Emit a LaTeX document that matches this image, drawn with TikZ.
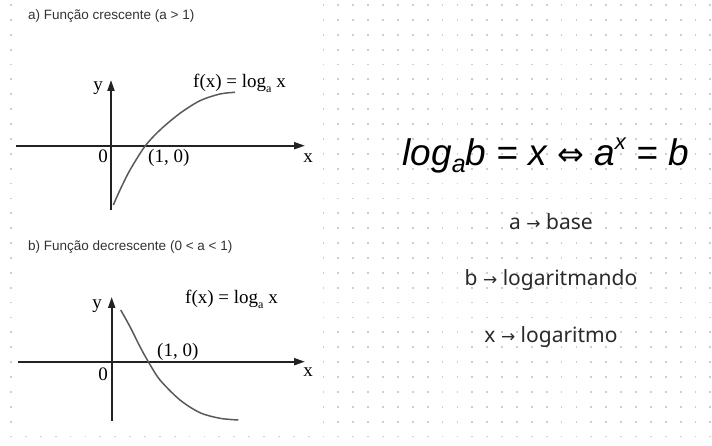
\documentclass[tikz,border=0pt]{standalone}
\usepackage{fontspec}
\setmainfont{Liberation Serif}
\newfontfamily\arialf{Liberation Sans}
\newfontfamily\uif{Noto Sans}
\newfontfamily\symf{DejaVu Sans}
\usetikzlibrary{arrows.meta}
\definecolor{dotc}{HTML}{CDCDD9}
\definecolor{titlec}{HTML}{333333}
\definecolor{axisc}{HTML}{222222}
\definecolor{curvec}{HTML}{5A5A5A}
\definecolor{uitext}{HTML}{2A2A2A}
\newcommand\myflog{f(x) = log\raisebox{-0.28em}{\fontsize{12}{12}\selectfont a} x}
\newcommand\myarrow{{\symf\fontsize{17}{17}\selectfont →}}
\begin{document}
\begin{tikzpicture}[x=1pt,y=-1pt,
  titletext/.style={font=\arialf\fontsize{13.5}{15}\selectfont, text=titlec, anchor=base west, inner sep=0},
  lbl/.style={font=\fontsize{19}{19}\selectfont, text=black, inner sep=0},
  axisline/.style={draw=axisc, line width=2pt, -{Triangle[length=11pt,width=7pt]}},
  curveline/.style={draw=curvec, line width=1.5pt},
  uilbl/.style={font=\uif\fontsize{21}{21}\selectfont, text=uitext, anchor=base, inner sep=0}]
\useasboundingbox (0,0) rectangle (712,446);
\fill[white] (0,0) rectangle (712,446);
% dot grid
\foreach \i in {0,...,47}{\foreach \j in {0,...,29}{
  \fill[dotc] ({11+14.88*\i-0.9},{5+14.88*\j-0.9}) rectangle +(1.8,1.8);}}
% white background of the pasted graphs
\fill[white] (16,0) rectangle (317,430);

% ---------- graph a ----------
\node[titletext] (ta) at (28,19.5) {a) Função crescente (a > 1)};
\coordinate (axl) at (16,145.7);
\coordinate (axr) at (305,145.7);
\coordinate (ayb) at (111,210);
\coordinate (ayt) at (111,80);
\draw[axisline] (axl) -- (axr);
\draw[axisline] (ayb) -- (ayt);
\draw[curveline] plot[smooth] coordinates {(113.3,205) (120,190) (130,170) (145,146.2) (160,130) (180,113.3) (200,100.7) (220,94) (235,92.3)};
\node[lbl, anchor=base] (ya) at (98,90.3) {y};
\node[lbl, anchor=base west] (fa) at (193,87.5) {\myflog};
\node[lbl, anchor=base] (za) at (103,162.7) {0};
\node[lbl, anchor=base west] (pa) at (148,162.7) {(1, 0)};
\node[lbl, anchor=base] (xa) at (308,162.7) {x};

% ---------- graph b ----------
\node[titletext] (tb) at (28,251) {b) Função decrescente (0 < a < 1)};
\coordinate (bxl) at (18,361.7);
\coordinate (bxr) at (305,361.7);
\coordinate (byb) at (111.7,421);
\coordinate (byt) at (111.7,297);
\draw[axisline] (bxl) -- (bxr);
\draw[axisline] (byb) -- (byt);
\draw[curveline] plot[smooth] coordinates {(120.7,310) (130,326.7) (140,346.7) (148.3,361.7) (160,380) (180,400) (200,412.7) (220,418.3) (238.3,420)};
\node[lbl, anchor=base] (yb) at (97,308.3) {y};
\node[lbl, anchor=base west] (fb) at (185,303.3) {\myflog};
\node[lbl, anchor=base west] (pb) at (157,356) {(1, 0)};
\node[lbl, anchor=base] (zb) at (103,380) {0};
\node[lbl, anchor=base] (xb) at (308,376.7) {x};

% ---------- right side ----------
\node[font=\arialf\itshape\fontsize{37}{37}\selectfont, text=black, anchor=base, inner sep=0] (eq) at (545.5,166)
  {log\raisebox{-0.18em}{\fontsize{25}{25}\selectfont a}b = x {\symf\upshape\fontsize{32}{32}\selectfont ⇔} a\raisebox{0.45em}{\fontsize{22}{22}\selectfont x} = b};
\node[uilbl] (l1) at (551,230) {a \myarrow{} base};
\node[uilbl] (l2) at (551,286) {b \myarrow{} logaritmando};
\node[uilbl] (l3) at (551,342.7) {x \myarrow{} logaritmo};
\end{tikzpicture}
\end{document}
